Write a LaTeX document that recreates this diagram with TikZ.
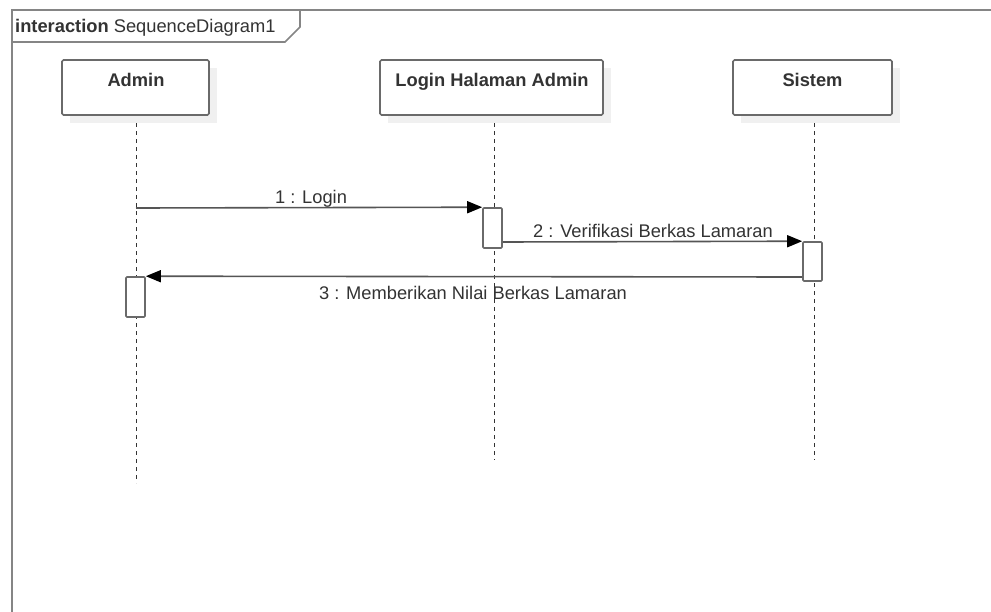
\documentclass[tikz,border=0pt]{standalone}
\usepackage{fontspec}
\setmainfont{Liberation Sans}
\usetikzlibrary{arrows.meta}
\definecolor{txt}{HTML}{333333}
\definecolor{bord}{HTML}{6A6A6A}
\definecolor{framec}{HTML}{858585}
\definecolor{msgc}{HTML}{555555}
\definecolor{shade}{HTML}{F0F0F0}
\begin{document}
\begin{tikzpicture}[x=1pt,y=-1pt,
  every node/.style={font=\fontsize{18.3}{21}\selectfont, text=txt, inner sep=0pt},
  actorbox/.style={draw=bord, line width=1.6pt, fill=white, rounded corners=1.5pt, minimum height=55pt},
  actorshadow/.style={fill=shade, draw=none},
  title/.style={font=\fontsize{18.3}{21}\selectfont\bfseries, anchor=base},
  lifeline/.style={draw=black!80, line width=0.9pt, dash pattern=on 4pt off 4pt},
  actbox/.style={draw=bord, line width=1.6pt, fill=white, rounded corners=1pt, minimum width=19pt},
  msg/.style={draw=msgc, line width=1.6pt, -{Triangle[length=15pt,width=12pt,color=black]}},
  msglabel/.style={anchor=base}
]
\useasboundingbox (0,0) rectangle (991,611);
\fill[white] (0,0) rectangle (991,611);

% frame
\draw[framec, line width=2pt] (12,615) -- (12,10) -- (995,10);
\draw[framec, line width=1.6pt] (12,42) -- (285,42) -- (300,27) -- (300,10);
\node[anchor=base west] (ftitle) at (15,32) {\textbf{interaction} SequenceDiagram1};

% lifelines
\coordinate (adminTop) at (136,115);
\coordinate (adminEnd) at (136,483);
\coordinate (loginTop) at (494,115);
\coordinate (loginEnd) at (494,460);
\coordinate (sisTop) at (814,115);
\coordinate (sisEnd) at (814,460);
\draw[lifeline] (adminTop) -- (adminEnd);
\draw[lifeline] (loginTop) -- (loginEnd);
\draw[lifeline] (sisTop) -- (sisEnd);

% actor boxes with shadows
\fill[actorshadow] (70,68) rectangle (217,123);
\fill[actorshadow] (388,68) rectangle (611,123);
\fill[actorshadow] (741,68) rectangle (900,123);
\node[actorbox, minimum width=147pt] (admin) at (135.5,87.5) {};
\node[actorbox, minimum width=223pt] (login) at (491.5,87.5) {};
\node[actorbox, minimum width=159pt] (sistem) at (812.5,87.5) {};
\node[title] (adminT) at (136,86) {Admin};
\node[title] (loginT) at (492,86) {Login Halaman Admin};
\node[title] (sistemT) at (812.5,86) {Sistem};

% activation boxes
\node[actbox, minimum height=40pt] (actLogin) at (492.5,228) {};
\node[actbox, minimum height=39pt] (actSis) at (812.5,261.5) {};
\node[actbox, minimum height=40pt] (actAdmin) at (135.5,297) {};

% messages
\coordinate (m1start) at (136,208);
\draw[msg] (m1start) -- (actLogin.north west);
\node[msglabel] (l1) at (311,203) {1 : Login};

\draw[msg] (actLogin.east |- 0,242) coordinate (m2start) -- (actSis.north west);
\node[msglabel] (l2) at (653,237) {2 : Verifikasi Berkas Lamaran};

\draw[msg] (actSis.west |- 0,277) coordinate (m3start) -- (actAdmin.north east);
\node[msglabel] (l3) at (473,299) {3 : Memberikan Nilai Berkas Lamaran};
\end{tikzpicture}
\end{document}
